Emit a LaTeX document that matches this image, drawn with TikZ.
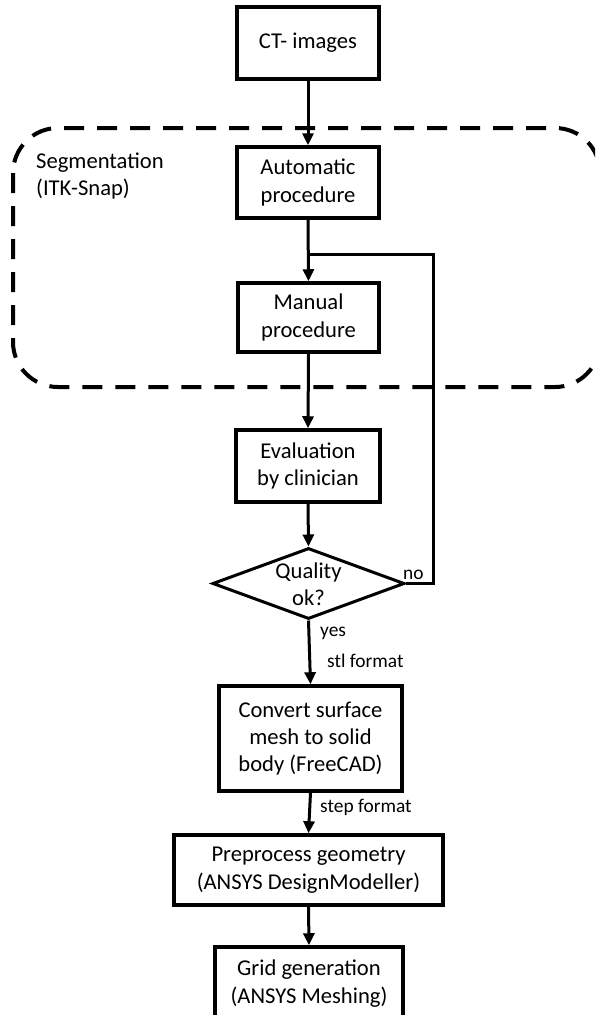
\documentclass[tikz,border=0pt]{standalone}
\usepackage{fontspec}
\setmainfont{Carlito}
\usetikzlibrary{shapes.geometric,arrows.meta}
\begin{document}
\begin{tikzpicture}[x=1pt,y=-1pt,
  every node/.style={font=\fontsize{22.6}{27.4}\selectfont, inner sep=0pt, align=center},
  procbox/.style={draw, line width=3.5pt, rectangle},
  decision/.style={draw, line width=3pt, diamond},
  lbl/.style={font=\fontsize{19.4}{23}\selectfont},
  conn/.style={line width=3pt, -{Triangle[length=12pt,width=11pt]}},
  plain/.style={line width=3pt},
  grp/.style={line width=4pt, dash pattern=on 20pt off 13pt, rounded corners=45pt}
]
\useasboundingbox (0,0) rectangle (595,1015);
\begin{scope}
\clip (0,0) rectangle (595,1015);
\draw[grp] (13,128) rectangle (600,387);
\node[anchor=base west, align=left] (seg) at (36,195.4) {Segmentation\\(ITK-Snap)};

\node[procbox, minimum width=142pt, minimum height=72pt] (ct) at (308,43) {CT- images};
\node[procbox, minimum width=142pt, minimum height=71pt] (auto) at (308,182.5) {Automatic\\procedure};
\node[procbox, minimum width=141pt, minimum height=69pt] (man) at (308.5,317.5) {Manual\\procedure};
\node[procbox, minimum width=144pt, minimum height=72pt] (eval) at (308,466) {Evaluation\\by clinician};
\node[decision, minimum width=192pt, minimum height=71pt] (q) at (308.5,583.5) {};
\node (qt) at (308.5,584) {Quality\\ok?};
\node[procbox, minimum width=183pt, minimum height=105pt] (conv) at (310.5,738.5) {Convert surface\\mesh to solid\\body (FreeCAD)};
\node[procbox, minimum width=269pt, minimum height=70pt] (pre) at (308.5,870) {Preprocess geometry\\(ANSYS DesignModeller)};
\node[procbox, minimum width=188pt, minimum height=73pt] (grid) at (309,983.5) {Grid generation\\(ANSYS Meshing)};

\coordinate (j) at (308,254);
\coordinate (jr) at (433,254);

\draw[conn] (ct.south) -- (auto.north);
\draw[conn] (auto.south) -- (man.north);
\draw[conn] (man.south) -- (eval.north);
\draw[conn] (eval.south) -- (q.north);
\draw[conn] (q.south) -- (conv.north);
\draw[conn] (conv.south) -- (pre.north);
\draw[conn] (pre.south) -- (grid.north);
\draw[plain] (q.east) -| (jr) -- (j);

\node[lbl, anchor=base west] (no) at (403,579) {no};
\node[lbl, anchor=base west] (yes) at (320,636) {yes};
\node[lbl, anchor=base west] (stl) at (327,667) {stl format};
\node[lbl, anchor=base west] (stp) at (320,812) {step format};
\end{scope}
\end{tikzpicture}
\end{document}
